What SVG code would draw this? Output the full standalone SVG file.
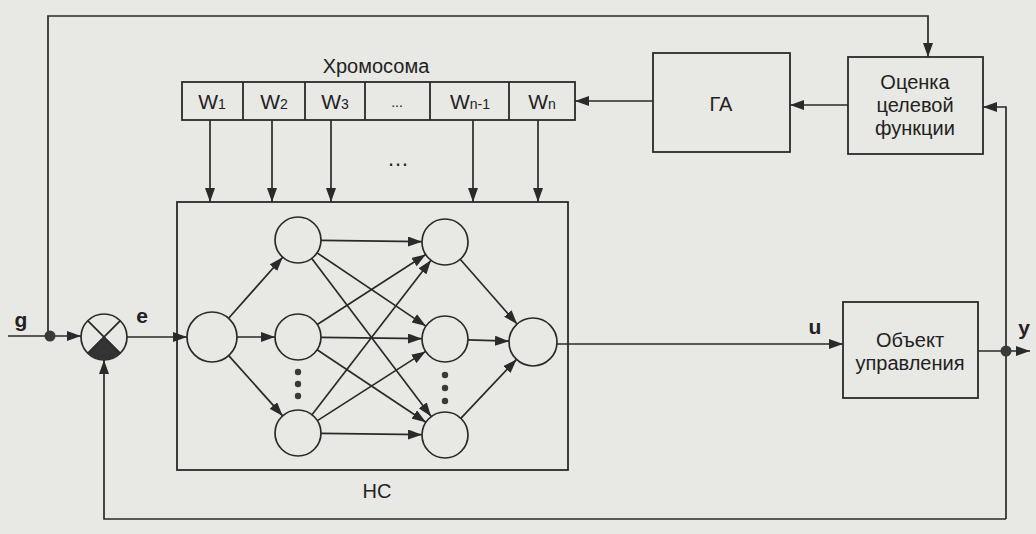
<svg xmlns="http://www.w3.org/2000/svg" width="1036" height="534" viewBox="0 0 1036 534">
<defs>
<style>
.bg{fill:#e8e8e4}
.box{fill:none;stroke:#2a2a2a;stroke-width:1.8}
.ln{fill:none;stroke:#2a2a2a;stroke-width:1.8}
.ar{fill:none;stroke:#2a2a2a;stroke-width:1.7;marker-end:url(#a)}
.neu{fill:none;stroke:#2a2a2a;stroke-width:1.7}
.t{font-family:"Liberation Sans",Arial,sans-serif;font-size:20px;fill:#222;text-anchor:middle}
.w{font-size:21px}
.s{font-size:14px}
.lb{font-size:21px;font-weight:bold}
.dot{fill:#3a3a3a}
</style>
<marker id="a" markerWidth="14" markerHeight="10" refX="14" refY="5" orient="auto" markerUnits="userSpaceOnUse">
<path d="M0,0 L14,5 L0,10 z" fill="#2a2a2a"/>
</marker>
</defs>
<rect class="bg" x="0" y="0" width="1036" height="534"/>

<g id="connectors">
<path class="ar" d="M48,336 V16 H928 V57"/>
<path class="ar" d="M8,336 H81"/>
<path class="ar" d="M127,337 H187"/>
<path class="ar" d="M1006,519 H104 V360"/>
<path class="ar" d="M1006,519 V107 H983"/>
<path class="ar" d="M848,105 H790"/>
<path class="ar" d="M653,101 H575"/>
<path class="ar" d="M557,344 H843"/>
<path class="ar" d="M978,351 H1030"/>
<path class="ar" d="M210,120 V202"/>
<path class="ar" d="M272,120 V202"/>
<path class="ar" d="M331,120 V202"/>
<path class="ar" d="M473,120 V202"/>
<path class="ar" d="M538,120 V202"/>
<path class="ar" d="M228.6,318.3 L282.7,257.2"/>
<path class="ar" d="M237,337 L275,337"/>
<path class="ar" d="M228.7,355.6 L282.7,415.9"/>
<path class="ar" d="M321,240.3 L422,241.7"/>
<path class="ar" d="M317.1,252.9 L425.9,326.1"/>
<path class="ar" d="M311.8,258.4 L431.2,416.6"/>
<path class="ar" d="M317.3,324.5 L425.7,254.5"/>
<path class="ar" d="M321,337.3 L422,338.7"/>
<path class="ar" d="M317.1,349.8 L425.9,422.2"/>
<path class="ar" d="M312,414.8 L431,260.2"/>
<path class="ar" d="M317.4,420.6 L425.6,351.4"/>
<path class="ar" d="M321,433.3 L422,434.7"/>
<path class="ar" d="M460.2,259.3 L517.1,324"/>
<path class="ar" d="M468,339.8 L509,341.2"/>
<path class="ar" d="M460.8,418.3 L516.5,359.4"/>
<circle class="dot" cx="50" cy="336" r="5.5"/>
<circle class="dot" cx="1006" cy="351" r="5.5"/>
</g>

<g id="g-label"><text class="t lb" x="21" y="327">g</text></g>
<g id="e-label"><text class="t lb" x="142" y="323">e</text></g>
<g id="u-label"><text class="t lb" x="815" y="334">u</text></g>
<g id="y-label"><text class="t lb" x="1024" y="335">y</text></g>

<g id="sum">
<circle class="neu" cx="104" cy="337" r="23"/>
<path d="M104,337 L120.3,353.3 A23,23 0 0 1 87.7,353.3 Z" fill="#333"/>
<path class="ln" d="M87.7,320.7 L120.3,353.3 M120.3,320.7 L87.7,353.3"/>
</g>

<g id="chromosome">
<text class="t" x="376" y="73">Хромосома</text>
<rect class="box" x="182" y="82" width="393" height="38"/>
<path class="ln" d="M243,82 V120 M305,82 V120 M365,82 V120 M430,82 V120 M509,82 V120"/>
<text class="t w" x="212" y="109">W<tspan class="s">1</tspan></text>
<text class="t w" x="274" y="109">W<tspan class="s">2</tspan></text>
<text class="t w" x="335" y="109">W<tspan class="s">3</tspan></text>
<text class="t" x="397" y="107" style="font-size:14px">...</text>
<text class="t w" x="470" y="109">W<tspan class="s">n-1</tspan></text>
<text class="t w" x="542" y="109">W<tspan class="s">n</tspan></text>
<text class="t" x="398" y="166" style="font-size:22px">…</text>
</g>

<g id="ga">
<rect class="box" x="653" y="53" width="137" height="99"/>
<text class="t" x="721" y="111">ГА</text>
</g>

<g id="fitness">
<rect class="box" x="848" y="57" width="135" height="97"/>
<text class="t" x="915" y="89">Оценка</text>
<text class="t" x="915" y="112">целевой</text>
<text class="t" x="915" y="135">функции</text>
</g>

<g id="plant">
<rect class="box" x="843" y="302" width="135" height="96"/>
<text class="t" x="910" y="347">Объект</text>
<text class="t" x="910" y="370">управления</text>
</g>

<g id="nn">
<rect class="box" x="177" y="202" width="391" height="268"/>
<circle class="neu" cx="212" cy="337" r="25"/>
<circle class="neu" cx="298" cy="240" r="23"/>
<circle class="neu" cx="298" cy="337" r="23"/>
<circle class="neu" cx="298" cy="433" r="23"/>
<circle class="neu" cx="445" cy="242" r="23"/>
<circle class="neu" cx="445" cy="339" r="23"/>
<circle class="neu" cx="445" cy="435" r="23"/>
<circle class="neu" cx="533" cy="342" r="24"/>
<circle class="dot" cx="298" cy="372" r="3.2"/>
<circle class="dot" cx="298" cy="384" r="3.2"/>
<circle class="dot" cx="298" cy="396" r="3.2"/>
<circle class="dot" cx="445" cy="375" r="3.2"/>
<circle class="dot" cx="445" cy="388" r="3.2"/>
<circle class="dot" cx="445" cy="401" r="3.2"/>
<text class="t" x="377" y="498">НС</text>
</g>
</svg>
